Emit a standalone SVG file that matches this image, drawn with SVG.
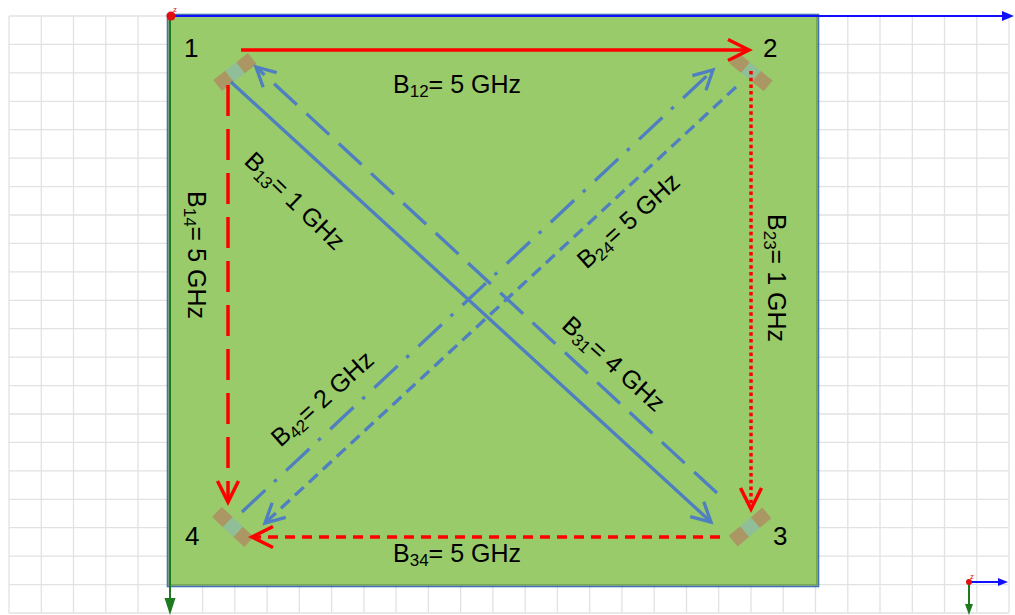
<svg xmlns="http://www.w3.org/2000/svg" width="1015" height="615" viewBox="0 0 1015 615">
<style>
.grid{stroke:#e2e2e2;stroke-width:1.3;fill:none}
.txt{font-family:"Liberation Sans",Arial,sans-serif;font-size:25px;fill:#000}
.num{font-family:"Liberation Sans",Arial,sans-serif;font-size:26px;fill:#000}
.red{stroke:#ff0000;stroke-width:3.5;fill:none}
.blue{stroke:#4f7fc0;stroke-width:3.3;fill:none}
.end{fill:#aa9764}
.mid{fill:#8fbe98}
</style>
<defs>
<marker id="ar" markerUnits="userSpaceOnUse" viewBox="-26 -14 30 28" refX="0" refY="0" markerWidth="30" markerHeight="28" orient="auto" overflow="visible">
<path d="M-21,-10.5 L0,0 L-21,10.5" fill="none" stroke="#ff0000" stroke-width="3.5"/>
</marker>
<marker id="ab" markerUnits="userSpaceOnUse" viewBox="-26 -14 30 28" refX="0" refY="0" markerWidth="30" markerHeight="28" orient="auto" overflow="visible">
<path d="M-19,-10 L0,0 L-19,10" fill="none" stroke="#4f7fc0" stroke-width="3.3"/>
</marker>
<g id="chip">
<rect x="-22" y="-7" width="15" height="14" class="end"/>
<rect x="-7" y="-7" width="14" height="14" class="mid"/>
<rect x="7" y="-7" width="15" height="14" class="end"/>
</g>
</defs>
<rect width="1015" height="615" fill="#ffffff"/>
<g id="grid">
<path class="grid" d="M9,16V613M41.3,16V613M73.5,16V613M105.8,16V613M138,16V613M170.3,16V613M202.6,16V613M234.8,16V613M267.1,16V613M299.3,16V613M331.6,16V613M363.9,16V613M396.1,16V613M428.4,16V613M460.6,16V613M492.9,16V613M525.2,16V613M557.4,16V613M589.7,16V613M621.9,16V613M654.2,16V613M686.5,16V613M718.7,16V613M751,16V613M783.2,16V613M815.5,16V613M847.8,16V613M880,16V613M912.3,16V613M944.5,16V613M976.8,16V613M1009,16V613"/>
<path class="grid" d="M9,16H1009M9,44.4H1009M9,72.9H1009M9,101.3H1009M9,129.7H1009M9,158.2H1009M9,186.6H1009M9,215H1009M9,243.4H1009M9,271.9H1009M9,300.3H1009M9,328.7H1009M9,357.1H1009M9,385.6H1009M9,414H1009M9,442.4H1009M9,470.9H1009M9,499.3H1009M9,527.7H1009M9,556.1H1009M9,584.6H1009M9,613H1009"/>
</g>
<g id="board">
<rect x="169" y="15.5" width="648" height="569.5" fill="#99cb6a" stroke="#6f9f45" stroke-width="1.5"/>
<rect x="167.5" y="14.5" width="651" height="572" fill="none" stroke="#4472b4" stroke-width="1.6"/>
</g>
<g id="axes">
<line x1="170" y1="16" x2="170" y2="603" stroke="#1e7a1e" stroke-width="2"/>
<path d="M164.5,598 L175.5,598 L170,615 Z" fill="#1e7a1e"/>
<line x1="170" y1="16" x2="1003" y2="16" stroke="#1010ff" stroke-width="2"/>
<path d="M1002,11 L1014,16 L1002,21 Z" fill="#1010ff"/>
<circle cx="171" cy="16" r="4.5" fill="#e01010"/>
<text x="173" y="12" font-family="Liberation Sans,Arial,sans-serif" font-size="8" fill="#e01010">z</text>
<line x1="969" y1="582" x2="969" y2="608" stroke="#1e7a1e" stroke-width="2"/>
<path d="M965,604 L973,604 L969,615 Z" fill="#1e7a1e"/>
<line x1="969" y1="582" x2="999" y2="582" stroke="#1010ff" stroke-width="2"/>
<path d="M998,578 L1008,582 L998,586 Z" fill="#1010ff"/>
<circle cx="969" cy="582" r="3" fill="#e01010"/>
<text x="970" y="579" font-family="Liberation Sans,Arial,sans-serif" font-size="8" fill="#e01010">z</text>
</g>
<g id="node1">
<use href="#chip" transform="translate(235,72) rotate(-38)"/>
<text class="num" x="184" y="57">1</text>
</g>
<g id="node2">
<use href="#chip" transform="translate(751,72) rotate(39)"/>
<text class="num" x="763" y="57">2</text>
</g>
<g id="node3">
<use href="#chip" transform="translate(750,527) rotate(-40)"/>
<text class="num" x="773" y="545">3</text>
</g>
<g id="node4">
<use href="#chip" transform="translate(233,527) rotate(43)"/>
<text class="num" x="185" y="545">4</text>
</g>
<g id="connectors">
<line class="red" x1="241" y1="50" x2="749" y2="50" marker-end="url(#ar)"/>
<line class="red" x1="228" y1="85" x2="228" y2="502" stroke-dasharray="31 13" marker-end="url(#ar)"/>
<line class="red" x1="751" y1="71" x2="751" y2="509" stroke-dasharray="3.5 3.2" marker-end="url(#ar)"/>
<line class="red" x1="720" y1="537" x2="252" y2="537" stroke-dasharray="10 7" marker-end="url(#ar)"/>
<line class="blue" x1="231" y1="82" x2="711" y2="522" marker-end="url(#ab)"/>
<line class="blue" x1="717" y1="493" x2="256" y2="67" stroke-dasharray="31 13" marker-end="url(#ab)"/>
<line class="blue" x1="242" y1="512" x2="713" y2="70" stroke-dasharray="32 12 3.5 13" marker-end="url(#ab)"/>
<line class="blue" x1="736" y1="87" x2="265" y2="523" stroke-dasharray="12 7" marker-end="url(#ab)"/>
</g>
<g id="labels">
<text class="txt" x="393" y="93">B<tspan font-size="17" dy="4">12</tspan><tspan dy="-4">= 5 GHz</tspan></text>
<text class="txt" x="393" y="562">B<tspan font-size="17" dy="4">34</tspan><tspan dy="-4">= 5 GHz</tspan></text>
<text class="txt" text-anchor="middle" transform="translate(188,255) rotate(90)">B<tspan font-size="17" dy="4">14</tspan><tspan dy="-4">= 5 GHz</tspan></text>
<text class="txt" text-anchor="middle" transform="translate(768,278) rotate(90)">B<tspan font-size="17" dy="4">23</tspan><tspan dy="-4">= 1 GHz</tspan></text>
<text class="txt" text-anchor="middle" transform="translate(289,207) rotate(44)">B<tspan font-size="17" dy="4">13</tspan><tspan dy="-4">= 1 GHz</tspan></text>
<text class="txt" text-anchor="middle" transform="translate(608,370) rotate(42)">B<tspan font-size="17" dy="4">31</tspan><tspan dy="-4">= 4 GHz</tspan></text>
<text class="txt" text-anchor="middle" transform="translate(634,227) rotate(-42)">B<tspan font-size="17" dy="4">24</tspan><tspan dy="-4">= 5 GHz</tspan></text>
<text class="txt" text-anchor="middle" transform="translate(328,405) rotate(-42)">B<tspan font-size="17" dy="4">42</tspan><tspan dy="-4">= 2 GHz</tspan></text>
</g>
</svg>
